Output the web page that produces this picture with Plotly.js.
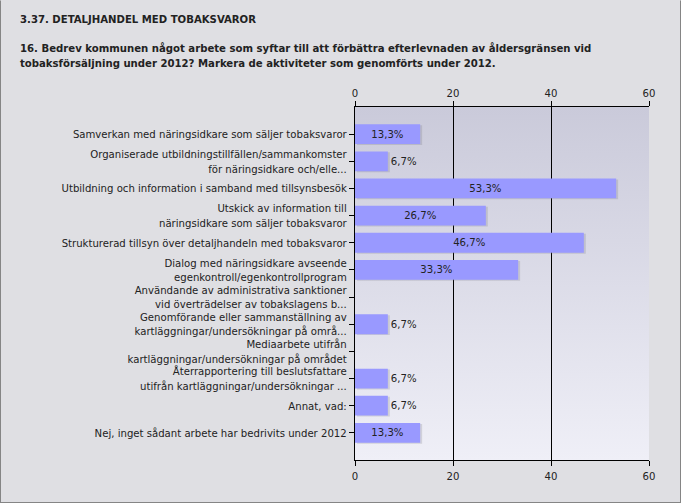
<!DOCTYPE html>
<html>
<head>
<meta charset="utf-8">
<script src="https://cdn.plot.ly/plotly-3.0.1.min.js"></script>
<style>
  html, body { margin: 0; padding: 0; background: #dfdfe3; }
  #wrap { position: relative; width: 681px; height: 503px; }
  #chart { position: absolute; left: 0; top: 0; width: 681px; height: 503px; }
  #frame { position: absolute; left: 0; top: 0; width: 679px; height: 501px; border: 1px solid #858585; border-top-color: #dfdfe3; pointer-events: none; }
</style>
</head>
<body>
<div id="wrap"><div id="chart"></div><div id="frame"></div></div>
<script>
// ---- data ----
const categories = [
  "Samverkan med näringsidkare som säljer tobaksvaror",
  "Organiserade utbildningstillfällen/sammankomster<br>för näringsidkare och/elle...",
  "Utbildning och information i samband med tillsynsbesök",
  "Utskick av information till<br>näringsidkare som säljer tobaksvaror",
  "Strukturerad tillsyn över detaljhandeln med tobaksvaror",
  "Dialog med näringsidkare avseende<br>egenkontroll/egenkontrollprogram",
  "Användande av administrativa sanktioner<br>vid överträdelser av tobakslagens b...",
  "Genomförande eller sammanställning av<br>kartläggningar/undersökningar på områ...",
  "Mediaarbete utifrån<br>kartläggningar/undersökningar på området",
  "Återrapportering till beslutsfattare<br>utifrån kartläggningar/undersökningar ...",
  "Annat, vad:",
  "Nej, inget sådant arbete har bedrivits under 2012"
];
const percents = [13.3, 6.7, 53.3, 26.7, 46.7, 33.3, 0, 6.7, 0, 6.7, 6.7, 13.3];
const xTicks = [0, 20, 40, 60];
const chartTitle = "3.37. DETALJHANDEL MED TOBAKSVAROR";
const questionLines = [
  "16. Bedrev kommunen något arbete som syftar till att förbättra efterlevnaden av åldersgränsen vid",
  "tobaksförsäljning under 2012? Markera de aktiviteter som genomförts under 2012."
];

// ---- layout geometry ----
const W = 681, H = 503;
const L = 355, R = 649, T = 107, B = 460;
const px = x => (x - L) / (R - L);
const py = y => (B - y) / (B - T);
const FONT = "Tahoma, 'DejaVu Sans Condensed', 'Liberation Sans', sans-serif";
const FS = 11.25;

const labels = percents.map(v => v > 0 ? v.toFixed(1).replace('.', ',') + '%' : '');
const positions = percents.map(v => v > 10 ? 'inside' : 'outside');

const gradSvg = '<svg xmlns="http://www.w3.org/2000/svg" width="10" height="100" preserveAspectRatio="none">' +
  '<defs><linearGradient id="g" x1="0" y1="0" x2="0" y2="1">' +
  '<stop offset="0" stop-color="#cacada"/><stop offset="1" stop-color="#efeff7"/></linearGradient></defs>' +
  '<rect width="10" height="100" fill="url(#g)"/></svg>';
const gradUri = 'data:image/svg+xml;base64,' + btoa(gradSvg);

// soft drop shadow under the bars (drawn on the base subplot, bars on the overlay)
const shadow = {
  type: 'bar', orientation: 'h', y: categories, x: percents, base: 0.4,
  xaxis: 'x', yaxis: 'y',
  marker: { color: 'rgba(110,110,125,0.22)' },
  offset: -0.33, width: 0.73,
  hoverinfo: 'skip', showlegend: false
};
const bars = {
  type: 'bar', orientation: 'h', y: categories, x: percents,
  xaxis: 'x2', yaxis: 'y',
  marker: { color: '#9999ff' },
  width: 0.73, offset: -0.365,
  text: labels, textposition: positions,
  insidetextanchor: 'middle',
  textfont: { family: FONT, size: FS, color: '#222' },
  insidetextfont: { family: FONT, size: FS, color: '#222' },
  outsidetextfont: { family: FONT, size: FS, color: '#222' },
  constraintext: 'none', cliponaxis: false,
  hoverinfo: 'x+y', showlegend: false
};

const axisCommon = {
  range: [0, 60], tickvals: xTicks, ticktext: xTicks.map(String),
  showgrid: true, gridcolor: '#000', gridwidth: 1, zeroline: false,
  showline: true, linecolor: '#000', linewidth: 1,
  ticks: 'outside', ticklen: 5, tickcolor: '#000', tickwidth: 1,
  tickfont: { family: FONT, size: FS, color: '#222' }, fixedrange: true
};

const layout = {
  width: W, height: H,
  margin: { l: L, r: W - R, t: T, b: H - B, pad: 0 },
  paper_bgcolor: '#dfdfe3', plot_bgcolor: 'rgba(0,0,0,0)',
  font: { family: FONT, size: FS, color: '#222' },
  showlegend: false,
  xaxis: Object.assign({}, axisCommon, { side: 'bottom' }),
  xaxis2: Object.assign({}, axisCommon, { side: 'top', overlaying: 'x', showgrid: false }),
  yaxis: {
    type: 'category', range: [12, -1],
    showgrid: false, zeroline: false,
    showline: true, linecolor: '#000', linewidth: 1,
    ticks: 'outside', ticklen: 5, tickcolor: '#000',
    tickfont: { family: FONT, size: FS, color: '#222' }, fixedrange: true
  },
  images: [{
    source: gradUri, xref: 'paper', yref: 'paper', x: 0, y: 1,
    sizex: 1, sizey: 1, sizing: 'stretch', layer: 'below', xanchor: 'left', yanchor: 'top'
  }],
  annotations: [
    { text: '<b>' + chartTitle + '</b>', xref: 'paper', yref: 'paper', x: px(18), y: py(20),
      xanchor: 'left', yanchor: 'middle', showarrow: false, font: { family: FONT, size: FS, color: '#222' } },
    { text: '<b>' + questionLines[0] + '</b>', xref: 'paper', yref: 'paper', x: px(18), y: py(48),
      xanchor: 'left', yanchor: 'middle', showarrow: false, font: { family: FONT, size: FS, color: '#222' } },
    { text: '<b>' + questionLines[1] + '</b>', xref: 'paper', yref: 'paper', x: px(18), y: py(64),
      xanchor: 'left', yanchor: 'middle', showarrow: false, font: { family: FONT, size: FS, color: '#222' } }
  ],
  bargap: 0.27
};

Plotly.newPlot('chart', [shadow, bars], layout, { staticPlot: true, displayModeBar: false });
</script>
</body>
</html>
